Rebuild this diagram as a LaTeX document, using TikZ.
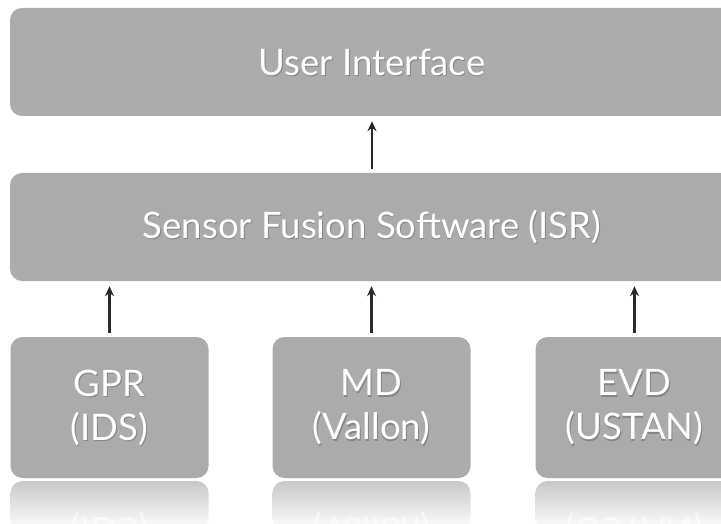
\documentclass[tikz,border=0pt]{standalone}
\usepackage{fontspec}
\setmainfont{Lato}
\usetikzlibrary{arrows.meta}
\definecolor{boxgray}{HTML}{ABABAB}
\definecolor{arrgray}{HTML}{2A2A2A}
\definecolor{reflgray}{HTML}{C8C8C8}
\tikzset{
  box/.style={fill=boxgray, rounded corners=12pt, inner sep=0pt, draw=none},
  widebox/.style={box, minimum width=724pt, minimum height=108pt},
  smallbox/.style={box, minimum width=198pt, minimum height=141pt},
  lbl/.style={text=white, align=center, inner sep=0pt, font=\fontsize{36.5}{44}\selectfont},
  lblshadow/.style={lbl, text=black, opacity=0.22},
  refltext/.style={lbl, opacity=0.6, yscale=-1, transform shape},
  arr/.style={draw=arrgray, line width=2.2pt, -{Stealth[length=10pt,width=9pt]}, shorten <=4pt, shorten >=5pt},
}
\begin{document}
\begin{tikzpicture}[x=1pt,y=-1pt]
\useasboundingbox (0,0) rectangle (721,524);
\clip (0,0) rectangle (721,524);
\fill[white] (0,0) rectangle (721,524);
% boxes
\node[widebox] (ui)  at (372,62) {};
\node[widebox] (isr) at (372,227) {};
\node[smallbox] (gpr) at (109.5,407.5) {};
\node[smallbox] (md)  at (371.5,407.5) {};
\node[smallbox] (evd) at (634.5,407.5) {};
% reflections
\foreach \c in {109.5,371.5,634.5}{
  \shade[top color=reflgray, bottom color=white, rounded corners=12pt]
    (\c-99,530) -- (\c-99,481) -- (\c+99,481) -- (\c+99,530) -- cycle;
}
\node[refltext] (gprr) at (109.5,550) {GPR\\(IDS)};
\node[refltext] (mdr)  at (371.5,550) {MD\\(Vallon)};
\node[refltext] (evdr) at (634.5,550) {EVD\\(USTAN)};
% label shadows
\node[lblshadow] at ([shift={(0.8,1.2)}]ui.center) {User Interface};
\node[lblshadow] at ([shift={(0.8,1.2)}]isr.center) {Sensor Fusion Software (ISR)};
\node[lblshadow] at ([shift={(0.8,1.2)}]gpr.center) {GPR\\(IDS)};
\node[lblshadow] at ([shift={(0.8,1.2)}]md.center) {MD\\(Vallon)};
\node[lblshadow] at ([shift={(0.8,1.2)}]evd.center) {EVD\\(USTAN)};
% labels
\node[lbl] (uil)  at (ui.center) {User Interface};
\node[lbl] (isrl) at (isr.center) {Sensor Fusion Software (ISR)};
\node[lbl] (gprl) at (gpr.center) {GPR\\(IDS)};
\node[lbl] (mdl)  at (md.center) {MD\\(Vallon)};
\node[lbl] (evdl) at (evd.center) {EVD\\(USTAN)};
% arrows
\draw[arr] (isr.north) -- (ui.south);
\draw[arr] (gpr.north) -- (gpr.north |- isr.south);
\draw[arr] (md.north) -- (md.north |- isr.south);
\draw[arr] (evd.north) -- (evd.north |- isr.south);
\end{tikzpicture}
\end{document}
